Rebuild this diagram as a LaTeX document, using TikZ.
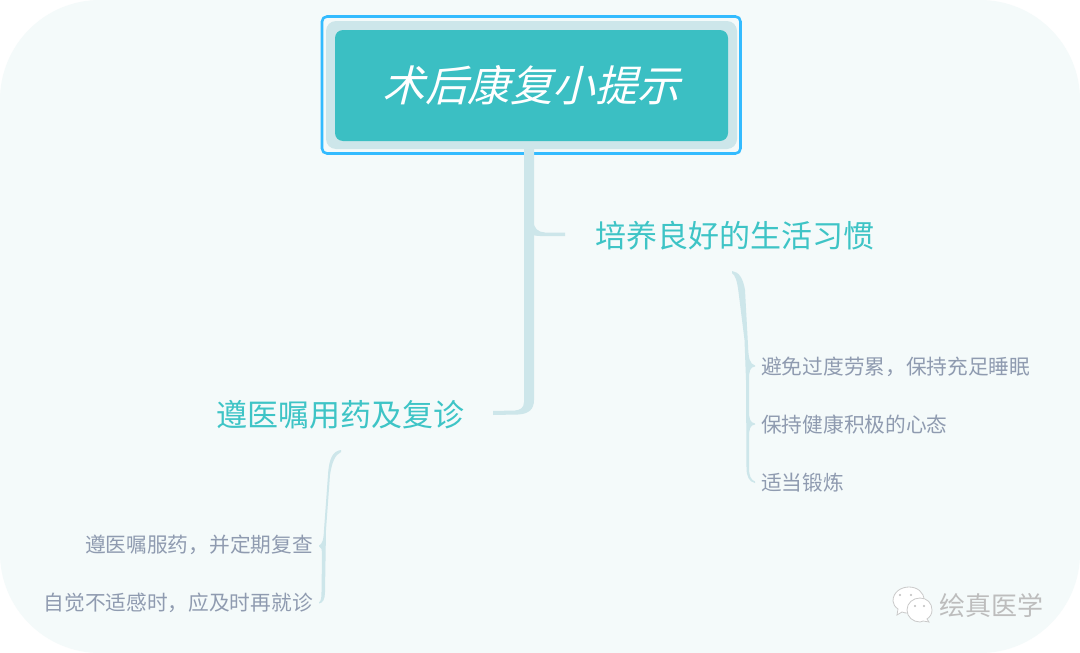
\documentclass[tikz,border=0pt]{standalone}
\usepackage{fontspec}
\setmainfont{Noto Sans CJK SC}
\newfontfamily\slantcjk[FakeSlant=0.25]{Noto Sans CJK SC}
\definecolor{bgc}{HTML}{F4FAFA}
\definecolor{linec}{HTML}{CDE6EA}
\definecolor{tealc}{HTML}{3BBFC3}
\definecolor{branchc}{HTML}{3EC4C6}
\definecolor{leafc}{HTML}{8F9BB0}
\definecolor{framec}{HTML}{33BBFF}
\definecolor{markc}{HTML}{BDBDBD}
\tikzset{
  branchtxt/.style={text=branchc,font=\fontsize{31}{36}\selectfont,inner sep=0pt},
  leaftxt/.style={text=leafc,font=\fontsize{20.7}{24}\selectfont,inner sep=0pt},
  linkline/.style={draw=none,fill=linec},
  bubble/.style={fill=white,draw=markc!80,line width=0.8pt},
}
\begin{document}
\begin{tikzpicture}[x=1pt,y=-1pt]
\useasboundingbox (0,0) rectangle (1080,653);
\fill[white] (0,0) rectangle (1080,653);
\fill[bgc,rounded corners=100pt] (0,0) rectangle (1080,653);
% root
\draw[framec,line width=2.6pt,fill=bgc,rounded corners=5pt] (322,16.5) rectangle (740.5,153.5);
\fill[linec,rounded corners=10pt] (326,21) rectangle (737,149);
\node[fill=tealc,rounded corners=8pt,minimum width=393pt,minimum height=111pt,inner sep=0pt,text=white,
  font=\slantcjk\fontsize{42.5}{48}\selectfont] (root) at (531.5,85.5) {术后康复小提示};
% trunk
\fill[linec] (524,149) -- (524,402) .. controls (524,408) and (520,410) .. (515,410.5) -- (493,411) -- (493,415) -- (518,414.5) .. controls (529,414) and (534,409) .. (534,400) -- (534,149) -- cycle;
\fill[linec] (533,220) .. controls (534,229) and (538,232) .. (545,232.5) -- (565,232.5) -- (565,236) -- (540,236) .. controls (536,236) and (533,235) .. (532,235) -- cycle;
% branches
\node[branchtxt,anchor=west] (b1) at (595,235.5) {培养良好的生活习惯};
\node[branchtxt,anchor=east] (b2) at (464.5,414.5) {遵医嘱用药及复诊};
% leaves
\node[leaftxt,anchor=west] (r1) at (761,366.5) {避免过度劳累，保持充足睡眠};
\node[leaftxt,anchor=west] (r2) at (761,424.5) {保持健康积极的心态};
\node[leaftxt,anchor=west] (r3) at (761,482.5) {适当锻炼};
\node[leaftxt,anchor=east] (l1) at (313,544.5) {遵医嘱服药，并定期复查};
\node[leaftxt,anchor=east] (l2) at (313,602.5) {自觉不适感时，应及时再就诊};
% right bracket
\fill[linec] (732,271) .. controls (739,272) and (743,278) .. (745,290)
  -- (748,345) .. controls (748.5,358) and (749.5,364) .. (755,365.5)
  -- (755,366.5) .. controls (750,367) and (749,371) .. (749,380)
  -- (749,410) .. controls (749,419) and (750,422.5) .. (755,423.5)
  -- (755,424.5) .. controls (750,425) and (749,429) .. (749,438)
  -- (749,468) .. controls (749,476) and (751,480) .. (755,481.5)
  -- (755,483) .. controls (749,482) and (746.5,476) .. (746.5,468)
  -- (746,380) -- (744.5,340) -- (738.5,292) .. controls (737,280) and (735,275) .. (732,273) -- cycle;
% left bracket
\fill[linec] (341,450) .. controls (333,451) and (329,458) .. (328,475)
  -- (324,530) .. controls (323.5,540) and (322.5,544) .. (319,545.5)
  -- (319,546.5) .. controls (321.5,547) and (322,549) .. (322,556)
  -- (321.5,592) .. controls (321.5,598) and (321,601) .. (319,602.5)
  -- (319,603.5) .. controls (323,603) and (325,599) .. (325,592)
  -- (326,530) -- (330,475) .. controls (332,462) and (335,455) .. (341,452) -- cycle;
% watermark
\node[inner sep=0pt,anchor=west,text=markc,font=\fontsize{26}{30}\selectfont] (wm) at (939,606) {绘真医学};
\draw[bubble] (893,601) .. controls (893,592) and (901,587) .. (909,587) .. controls (917,587) and (924,592) .. (924,600) .. controls (924,608) and (917,613) .. (909,613) .. controls (906,613) and (904,613) .. (902,612) -- (897,615) -- (898,609) .. controls (895,607) and (893,604) .. (893,601) -- cycle;
\draw[bubble] (907,610) .. controls (907,603) and (913,598) .. (920,598) .. controls (927,598) and (932,603) .. (932,610) .. controls (932,614) and (930,617) .. (927,619) -- (929,622) -- (923,621) .. controls (922,622) and (921,622) .. (920,622) .. controls (913,622) and (907,617) .. (907,610) -- cycle;
\foreach \ex/\ey in {900/595,911/595,915/606,924/606}{\fill[markc] (\ex,\ey) circle (1.1pt);}
\end{tikzpicture}
\end{document}
